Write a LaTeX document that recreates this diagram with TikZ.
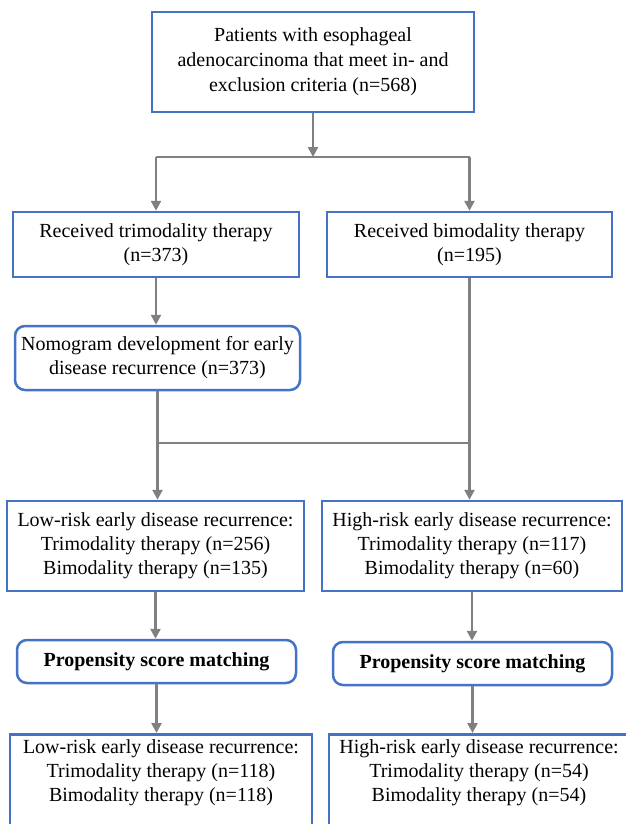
\documentclass[tikz,border=0pt]{standalone}
\usepackage{fontspec}
\setmainfont{Liberation Serif}
\usepackage{tikz}
\usetikzlibrary{arrows.meta}

\definecolor{boxblue}{RGB}{68,114,196}
\definecolor{flowgray}{RGB}{128,128,128}

\tikzset{
  box/.style={draw=boxblue, line width=2.5pt, fill=white, inner sep=0pt, align=center,
    font=\fontsize{20}{24}\selectfont},
  roundbox/.style={box, rounded corners=10pt},
  openbox/.style={box, anchor=north, inner ysep=5pt, text depth=80pt},
  link/.style={draw=flowgray, line width=2.5pt},
  arrow/.style={link, -{Triangle[length=10pt,width=10pt]}},
}

\begin{document}
\begin{tikzpicture}[x=1pt,y=-1pt]
   \useasboundingbox (0,0) rectangle (625,824);

   \draw (313,62) node[box, minimum width=322pt, minimum height=100pt, font=\fontsize{20}{25}\selectfont] (cohort) {Patients with esophageal\\adenocarcinoma that meet in- and\\exclusion criteria (n=568)};
   \coordinate (split) at (313,157);
      \draw (156,244.5) node[box, minimum width=286pt, minimum height=65pt] (trimod) {Received trimodality therapy\\(n=373)};
      \draw (469.5,244.5) node[box, minimum width=285pt, minimum height=65pt] (bimod) {Received bimodality therapy\\(n=195)};
	    \draw (157.5,358) node[roundbox, minimum width=285pt, minimum height=64pt] (nomo) {Nomogram development for early\\disease recurrence (n=373)};
   \coordinate (merge) at (313,443);
		\draw (155.5,546) node[box, minimum width=297pt, minimum height=90pt] (lowrisk) {Low-risk early disease recurrence:\\Trimodality therapy (n=256)\\Bimodality therapy (n=135)};
		\draw (472,546) node[box, minimum width=300pt, minimum height=90pt] (highrisk) {High-risk early disease recurrence:\\Trimodality therapy (n=117)\\Bimodality therapy (n=60)};
		\draw (156.5,661.5) node[roundbox, minimum width=279pt, minimum height=43pt] (psmlow) {\textbf{Propensity score matching}};
		\draw (472.5,663.5) node[roundbox, minimum width=279pt, minimum height=43pt] (psmhigh) {\textbf{Propensity score matching}};
		\draw (161,733) node[openbox, minimum width=302pt] (lowmatch) {Low-risk early disease recurrence:\\Trimodality therapy (n=118)\\Bimodality therapy (n=118)};
		\draw (479,733) node[openbox, minimum width=300pt] (highmatch) {High-risk early disease recurrence:\\Trimodality therapy (n=54)\\Bimodality therapy (n=54)};

    \draw[arrow] (cohort) -- (split);
    \draw[link] (split -| trimod) -- (split -| bimod);
    \draw[arrow] (split -| trimod) -- (trimod);
    \draw[arrow] (split -| bimod) -- (bimod);
    \draw[arrow] (trimod) -- (trimod |- nomo.north);
    \draw[link] (nomo) -- (nomo |- merge);
    \draw[link] (bimod) -- (bimod |- merge);
    \draw[link] (nomo |- merge) -- (bimod |- merge);
    \draw[arrow] (nomo |- merge) -- (nomo |- lowrisk.north);
    \draw[arrow] (bimod |- merge) -- (bimod |- highrisk.north);
    \draw[arrow] (lowrisk) -- (lowrisk |- psmlow.north);
    \draw[arrow] (highrisk) -- (highrisk |- psmhigh.north);
    \draw[arrow] (psmlow) -- (psmlow |- lowmatch.north);
    \draw[arrow] (psmhigh) -- (psmhigh |- highmatch.north);

\end{tikzpicture}
\end{document}
